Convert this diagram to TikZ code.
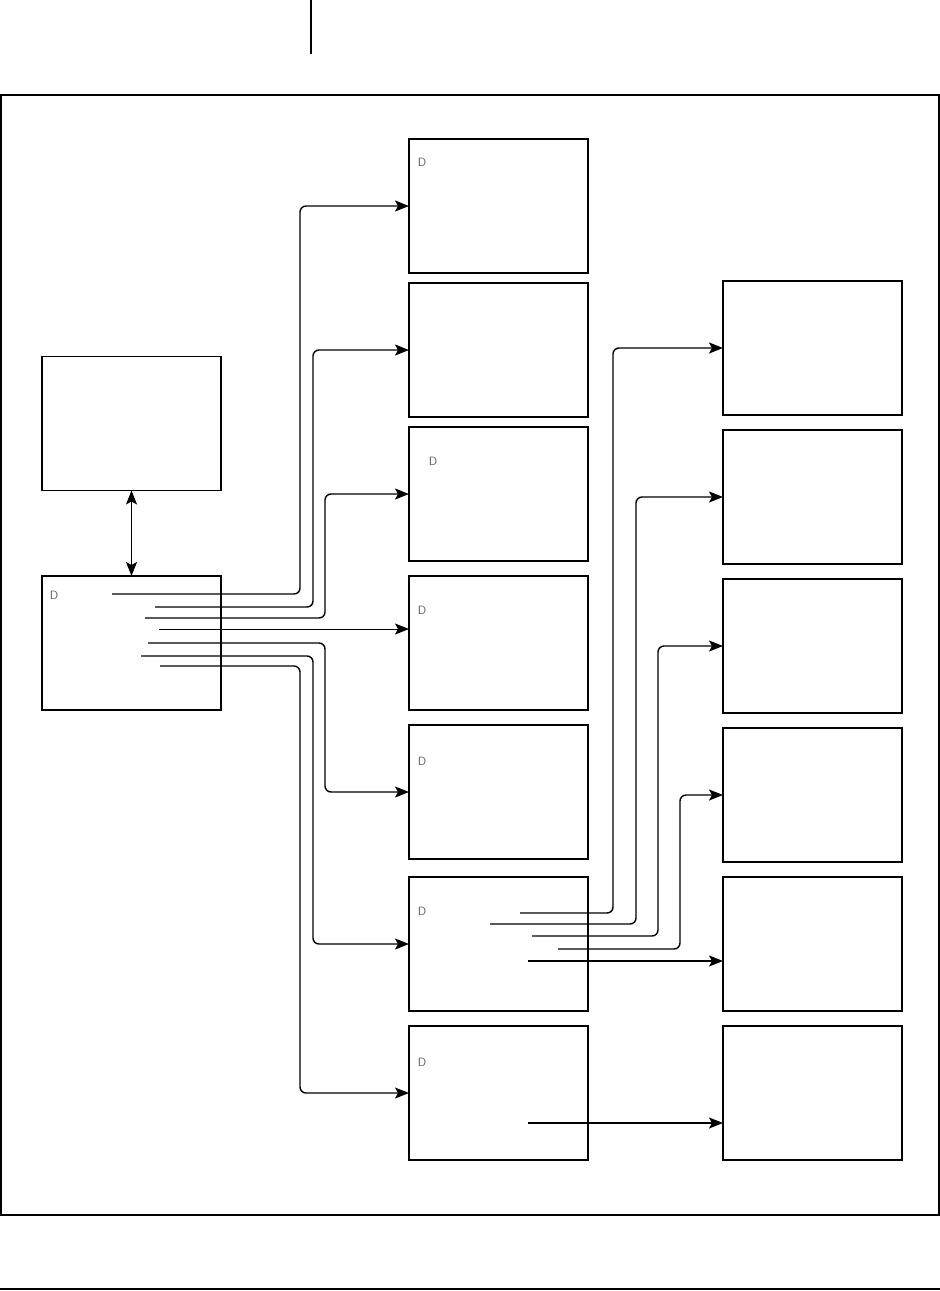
\documentclass[tikz,border=0pt]{standalone}
\usetikzlibrary{arrows.meta}
\tikzset{
  tip/.tip={Stealth[length=14pt,width=11pt,inset=3pt]}
}
\begin{document}
\begin{tikzpicture}[x=1pt,y=-1pt,
  blk/.style={draw, line width=1.6pt, minimum width=179pt, minimum height=134pt, inner sep=0pt, outer sep=0pt},
  tag/.style={font=\sffamily\large, text=black!65, inner sep=0pt},
  link/.style={-tip, line width=1.4pt, rounded corners=6pt}]
\useasboundingbox (0,0) rectangle (940,1291);
% frame and rules
\draw[line width=1.6pt] (311,0) -- (311,54);
\draw[line width=1.8pt] (1,95) rectangle (939,1215);
\draw[line width=1.8pt] (0,1289) -- (940,1289);
% left column
\node[blk] (l1) at (131.5,423.5) {};
\node[blk] (l2) at (131.5,643) {};
% middle column
\node[blk] (m1) at (498.5,206) {};
\node[blk] (m2) at (498.5,350) {};
\node[blk] (m3) at (498.5,494) {};
\node[blk] (m4) at (498.5,643) {};
\node[blk] (m5) at (498.5,792) {};
\node[blk] (m6) at (498.5,944) {};
\node[blk] (m7) at (498.5,1093) {};
% right column
\node[blk] (r1) at (812.5,348) {};
\node[blk] (r2) at (812.5,497) {};
\node[blk] (r3) at (812.5,646) {};
\node[blk] (r4) at (812.5,795) {};
\node[blk] (r5) at (812.5,944) {};
\node[blk] (r6) at (812.5,1093) {};
% small marks
\node[tag] (l2d) at (54,595) {D};
\node[tag] (m1d) at (422,162) {D};
\node[tag] (m3d) at (433,461) {D};
\node[tag] (m4d) at (422,610) {D};
\node[tag] (m5d) at (422,761) {D};
\node[tag] (m6d) at (422,911) {D};
\node[tag] (m7d) at (422,1062) {D};
% line origins
\coordinate (o1) at (112,594);
\coordinate (o2) at (155,607);
\coordinate (o3) at (145,618);
\coordinate (o4) at (159,629);
\coordinate (o5) at (148,643);
\coordinate (o6) at (141,656);
\coordinate (o7) at (160,666);
\coordinate (p1) at (520,913);
\coordinate (p2) at (490,924);
\coordinate (p3) at (532,936);
\coordinate (p4) at (558,949);
\coordinate (p5) at (528,961);
\coordinate (q1) at (528,1123);
% connectors
\draw[tip-tip, line width=1.4pt] (l1.south) -- (l2.north);
\draw[link] (o1) -- (300,594) |- (m1.west);
\draw[link] (o2) -- (313,607) |- (m2.west);
\draw[link] (o3) -- (325,618) |- (m3.west);
\draw[link, line width=1pt] (o4) -- (o4 -| m4.west);
\draw[link] (o5) -- (325,643) |- (m5.west);
\draw[link] (o6) -- (313,656) |- (m6.west);
\draw[link] (o7) -- (300,666) |- (m7.west);
\draw[link] (p1) -- (613,913) |- (r1.west);
\draw[link] (p2) -- (636,924) |- (r2.west);
\draw[link] (p3) -- (658,936) |- (r3.west);
\draw[link] (p4) -- (680,949) |- (r4.west);
\draw[link] (p5) -- (p5 -| r5.west);
\draw[link] (q1) -- (q1 -| r6.west);
\end{tikzpicture}
\end{document}
